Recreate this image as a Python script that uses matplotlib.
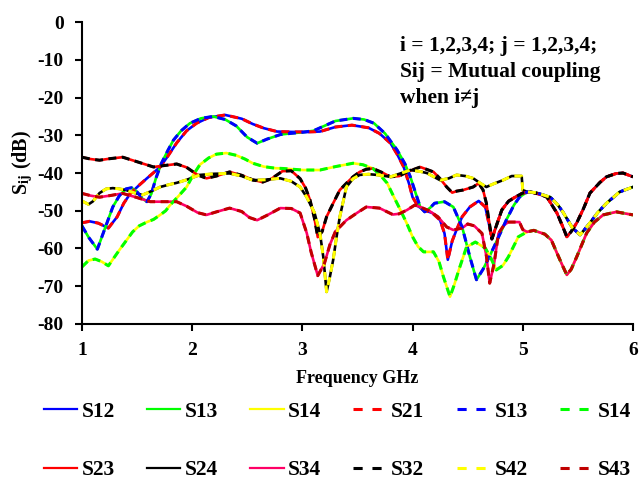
"""Mutual coupling S-parameters of a 4-port antenna, recreated in matplotlib."""

import matplotlib
matplotlib.use("Agg")
import matplotlib.pyplot as plt
from matplotlib.lines import Line2D

plt.rcParams["font.family"] = ["Liberation Serif", "DejaVu Serif"]
plt.rcParams["font.weight"] = "bold"
plt.rcParams["mathtext.fontset"] = "stix"
plt.rcParams["axes.unicode_minus"] = False

# curve shared by S12 / S21
f_12 = [1.0, 1.07, 1.15, 1.24, 1.32, 1.38, 1.44, 1.52, 1.59, 1.71, 1.78, 1.86, 1.95, 2.04,
        2.15, 2.3, 2.45, 2.55, 2.65, 2.77, 2.9, 3.05, 3.16, 3.3, 3.45, 3.6, 3.7, 3.8, 3.86,
        3.92, 3.97, 4.0, 4.05, 4.1, 4.18, 4.25, 4.29, 4.32, 4.36, 4.4, 4.45, 4.52, 4.6,
        4.66, 4.69, 4.72, 4.76, 4.81, 4.87, 4.93, 5.0, 5.07, 5.15, 5.22, 5.31, 5.36, 5.4,
        5.44, 5.49, 5.55, 5.61, 5.7, 5.76, 5.85, 5.91, 6.0]
s_12 = [-53.2, -52.8, -53.3, -54.6, -51.6, -48.0, -45.4, -43.2, -41.4, -38.4, -35.5, -32.0,
        -28.8, -26.8, -25.3, -24.6, -25.6, -27.0, -28.1, -29.0, -29.1, -29.1, -29.0, -27.8,
        -27.3, -28.0, -29.5, -32.1, -35.0, -38.4, -43.0, -46.4, -48.8, -49.8, -50.6, -52.5,
        -56.0, -63.0, -58.0, -55.0, -51.6, -49.0, -47.4, -49.0, -53.0, -57.5, -54.0, -49.8,
        -47.5, -46.4, -45.3, -45.0, -45.6, -46.4, -50.6, -54.0, -56.9, -55.5, -53.2, -49.5,
        -45.3, -42.5, -41.0, -40.1, -40.0, -41.0]

# curve shared by S13 / S31
f_13 = [1.0, 1.06, 1.14, 1.21, 1.28, 1.34, 1.4, 1.45, 1.5, 1.55, 1.59, 1.63, 1.67, 1.72,
        1.78, 1.83, 1.9, 1.98, 2.08, 2.19, 2.3, 2.4, 2.5, 2.59, 2.68, 2.8, 2.89, 3.0, 3.1,
        3.2, 3.3, 3.46, 3.56, 3.65, 3.75, 3.86, 3.93, 3.98, 4.03, 4.07, 4.11, 4.16, 4.2,
        4.29, 4.37, 4.45, 4.52, 4.58, 4.64, 4.7, 4.78, 4.85, 4.92, 4.97, 5.04, 5.12, 5.25,
        5.32, 5.37, 5.45, 5.52, 5.56, 5.61, 5.68, 5.76, 5.88, 6.0]
s_13 = [-54.0, -57.0, -60.2, -54.6, -49.0, -46.0, -44.2, -43.9, -45.0, -46.8, -47.6, -45.5,
        -41.5, -37.5, -34.0, -31.3, -28.8, -26.8, -25.5, -25.0, -25.8, -27.5, -30.5, -32.1,
        -31.0, -29.8, -29.5, -29.2, -28.8, -27.5, -26.2, -25.5, -25.8, -26.8, -29.5, -33.9,
        -37.5, -41.0, -45.5, -49.0, -50.3, -49.2, -48.0, -47.6, -49.0, -54.3, -62.2, -68.3,
        -65.5, -62.0, -57.0, -52.5, -48.5, -46.4, -45.0, -45.2, -46.4, -48.5, -50.6, -54.5,
        -56.4, -55.0, -53.2, -50.5, -48.0, -45.0, -43.7]

# curve shared by S14 / S41
f_14 = [1.0, 1.06, 1.12, 1.18, 1.24, 1.29, 1.34, 1.4, 1.46, 1.52, 1.59, 1.65, 1.71, 1.76,
        1.8, 1.88, 1.95, 2.01, 2.07, 2.15, 2.22, 2.31, 2.4, 2.48, 2.55, 2.65, 2.75, 2.83,
        3.0, 3.16, 3.3, 3.46, 3.55, 3.64, 3.7, 3.77, 3.83, 3.89, 3.95, 4.0, 4.05, 4.1, 4.19,
        4.24, 4.28, 4.34, 4.38, 4.42, 4.49, 4.57, 4.66, 4.71, 4.76, 4.82, 4.87, 4.96, 5.04,
        5.1, 5.2, 5.26, 5.31, 5.36, 5.4, 5.44, 5.49, 5.58, 5.65, 5.73, 5.85, 6.0]
s_14 = [-64.9, -63.2, -62.8, -63.5, -64.6, -62.5, -60.4, -58.0, -55.6, -54.0, -53.0, -52.3,
        -51.1, -50.0, -48.5, -46.0, -43.7, -40.5, -37.8, -36.0, -35.0, -34.7, -35.3, -36.3,
        -37.4, -38.3, -38.7, -38.8, -39.2, -39.2, -38.3, -37.4, -37.8, -38.8, -40.3, -42.7,
        -46.3, -49.8, -53.5, -56.9, -59.5, -60.9, -60.9, -63.5, -67.5, -72.8, -69.5, -65.7,
        -59.6, -58.3, -59.9, -62.5, -65.7, -64.5, -62.2, -56.9, -55.6, -55.2, -56.2, -57.8,
        -61.2, -64.5, -67.0, -65.5, -62.2, -55.9, -53.0, -51.1, -50.3, -51.1]

# curve shared by S23 / S32
f_23 = [1.0, 1.08, 1.16, 1.25, 1.37, 1.5, 1.65, 1.75, 1.86, 1.95, 2.05, 2.13, 2.22, 2.34,
        2.45, 2.55, 2.64, 2.72, 2.82, 2.9, 2.98, 3.03, 3.07, 3.11, 3.14, 3.18, 3.22, 3.28,
        3.34, 3.4, 3.46, 3.52, 3.58, 3.64, 3.72, 3.8, 3.88, 3.95, 4.07, 4.19, 4.25, 4.31,
        4.36, 4.4, 4.46, 4.55, 4.6, 4.64, 4.67, 4.69, 4.72, 4.76, 4.81, 4.87, 4.93, 5.0,
        5.07, 5.15, 5.22, 5.31, 5.36, 5.4, 5.44, 5.49, 5.55, 5.61, 5.7, 5.76, 5.85, 5.91, 6.0]
s_23 = [-35.8, -36.3, -36.6, -36.2, -35.8, -37.0, -38.4, -38.0, -37.6, -38.5, -40.5, -41.4,
        -40.8, -39.7, -40.6, -41.8, -42.4, -41.5, -39.5, -39.4, -41.5, -44.0, -47.2, -52.0,
        -57.0, -55.5, -51.6, -48.0, -44.5, -42.7, -41.0, -39.7, -39.0, -38.8, -39.8, -41.0,
        -40.8, -39.7, -38.4, -39.7, -41.5, -43.7, -45.2, -44.8, -44.5, -43.7, -42.7, -44.5,
        -48.0, -52.0, -57.5, -54.0, -49.8, -47.5, -46.4, -45.3, -45.0, -45.6, -46.4, -50.6,
        -54.0, -56.9, -55.5, -53.2, -49.5, -45.3, -42.5, -41.0, -40.1, -40.0, -41.0]

# curve shared by S24 / S42
f_24 = [1.0, 1.06, 1.1, 1.16, 1.22, 1.28, 1.34, 1.4, 1.48, 1.55, 1.63, 1.71, 1.8, 1.86,
        1.95, 2.07, 2.2, 2.34, 2.45, 2.55, 2.65, 2.8, 2.9, 2.98, 3.04, 3.11, 3.16, 3.19,
        3.22, 3.25, 3.28, 3.31, 3.34, 3.4, 3.46, 3.52, 3.6, 3.68, 3.8, 3.9, 3.98, 4.07, 4.13,
        4.25, 4.33, 4.4, 4.48, 4.55, 4.62, 4.67, 4.74, 4.82, 4.9, 4.99, 5.0, 5.04, 5.12,
        5.25, 5.32, 5.37, 5.45, 5.52, 5.56, 5.61, 5.68, 5.76, 5.88, 6.0]
s_24 = [-47.4, -48.3, -47.5, -45.3, -44.2, -44.0, -44.2, -44.5, -45.3, -45.8, -44.8, -43.7,
        -43.0, -42.6, -41.8, -40.5, -40.2, -40.1, -40.8, -41.9, -41.8, -41.4, -42.2, -43.7,
        -46.4, -50.5, -56.0, -62.2, -71.5, -67.5, -63.0, -57.0, -51.6, -43.7, -41.5, -40.5,
        -40.3, -40.5, -41.0, -40.0, -39.2, -39.6, -40.0, -41.9, -41.4, -40.5, -40.8, -41.4,
        -42.8, -43.7, -42.8, -41.9, -40.8, -40.8, -44.5, -45.0, -45.2, -46.4, -48.5, -50.6,
        -54.5, -56.4, -55.0, -53.2, -50.5, -48.0, -45.0, -43.7]

# curve shared by S34 / S43
f_34 = [1.0, 1.08, 1.16, 1.25, 1.37, 1.5, 1.62, 1.72, 1.86, 1.95, 2.05, 2.13, 2.22, 2.34,
        2.45, 2.52, 2.59, 2.68, 2.8, 2.9, 2.98, 3.04, 3.08, 3.14, 3.2, 3.25, 3.3, 3.4, 3.5,
        3.58, 3.7, 3.82, 3.88, 3.95, 4.02, 4.07, 4.15, 4.23, 4.31, 4.37, 4.45, 4.5, 4.56,
        4.63, 4.67, 4.7, 4.74, 4.78, 4.83, 4.87, 4.97, 5.0, 5.04, 5.1, 5.2, 5.26, 5.31, 5.36,
        5.4, 5.44, 5.49, 5.58, 5.65, 5.73, 5.85, 6.0]
s_34 = [-45.4, -46.0, -46.4, -46.0, -45.4, -46.5, -47.6, -47.6, -47.6, -48.8, -50.5, -51.1,
        -50.3, -49.3, -50.2, -51.8, -52.5, -51.2, -49.3, -49.4, -50.6, -55.9, -61.0, -67.2,
        -64.0, -59.0, -55.5, -52.5, -50.5, -49.0, -49.3, -51.0, -50.8, -49.8, -48.5, -49.0,
        -50.0, -51.6, -54.3, -55.1, -54.6, -53.5, -54.0, -56.0, -62.0, -69.2, -64.0, -56.0,
        -53.8, -53.0, -53.0, -55.0, -55.6, -55.2, -56.2, -57.8, -61.2, -64.5, -67.0, -65.5,
        -62.2, -55.9, -53.0, -51.1, -50.3, -51.1]

xticks = [1, 2, 3, 4, 5, 6]
yticks = [0, -10, -20, -30, -40, -50, -60, -70, -80]
note = "i = 1,2,3,4; j = 1,2,3,4;\nSij = Mutual coupling\nwhen i\u2260j"

fig = plt.figure(figsize=(6.4, 4.82), dpi=100)
ax = fig.add_axes([0.128, 0.328, 0.861, 0.626])

solid = [
    ("S12", f_12, s_12, "#0000FF"),
    ("S13", f_13, s_13, "#00FF00"),
    ("S14", f_14, s_14, "#FFFF00"),
    ("S23", f_23, s_23, "#FF0000"),
    ("S24", f_24, s_24, "#000000"),
    ("S34", f_34, s_34, "#FF0066"),
]
dashed = [
    ("S21", f_12, s_12, "#FF0000"),
    ("S13", f_13, s_13, "#0000FF"),
    ("S14", f_14, s_14, "#00FF00"),
    ("S32", f_23, s_23, "#000000"),
    ("S42", f_24, s_24, "#FFFF00"),
    ("S43", f_34, s_34, "#C00000"),
]

handles = {}
for name, f, s, c in solid:
    ax.plot(f, s, color=c, lw=1.9, solid_joinstyle="round")
    handles[("s", name)] = Line2D([], [], color=c, lw=1.6, label=name)
for name, f, s, c in dashed:
    ax.plot(f, s, color=c, lw=2.2, dashes=(2.6, 1.8))
    handles[("d", name)] = Line2D([], [], color=c, lw=2.2, dashes=(3.0, 3.2), label=name)

ax.set_xlim(1, 6)
ax.set_ylim(-80, 0)
ax.set_xticks(xticks)
ax.set_yticks(yticks)
ax.tick_params(labelsize=14, width=1.5, length=5, direction="out")
ax.tick_params(axis="x", pad=8)
ax.tick_params(axis="y", pad=8)
for lab in ax.get_xticklabels() + ax.get_yticklabels():
    lab.set_fontweight("bold")
for side in ("top", "right"):
    ax.spines[side].set_visible(False)
for side in ("left", "bottom"):
    ax.spines[side].set_linewidth(1.5)

ax.set_xlabel("Frequency GHz", fontsize=13, fontweight="bold", labelpad=8)
ax.set_ylabel(r"S$_{\mathbf{ij}}$ (dB)", fontsize=14.5, fontweight="bold")
ax.yaxis.set_label_coords(-0.085, 0.535)
ax.text(3.89, -3.6, note, fontsize=15.5, fontweight="bold", va="top", ha="left",
        linespacing=1.42)

order = [("s", "S12"), ("s", "S23"), ("s", "S13"), ("s", "S24"), ("s", "S14"), ("s", "S34"),
         ("d", "S21"), ("d", "S32"), ("d", "S13"), ("d", "S42"), ("d", "S14"), ("d", "S43")]
leg_h = [handles[k] for k in order]
fig.legend(handles=leg_h, labels=[h.get_label() for h in leg_h], loc="center",
           bbox_to_anchor=(0.527, 0.085), ncol=6, frameon=False,
           prop={"size": 15.5, "weight": "bold"}, handlelength=1.55, handletextpad=0.2,
           columnspacing=1.5, labelspacing=1.8)

fig.savefig("out.png", dpi=100)
